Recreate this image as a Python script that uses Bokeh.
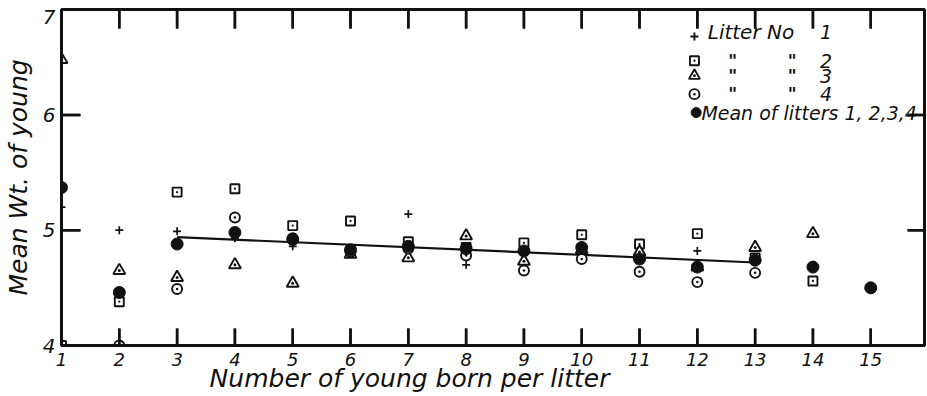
from bokeh.plotting import figure
from bokeh.models import Range1d, FixedTicker, BoxAnnotation
from bokeh.core.properties import value
from bokeh.embed import file_html
from bokeh.resources import INLINE

# ---------------- data ----------------
litter1_x = [1, 2, 3, 4, 5, 6, 7, 8, 9, 10, 11, 12, 13]
litter1_y = [5.20, 5.00, 4.99, 4.93, 4.86, 4.84, 5.14, 4.70, 4.86, 4.83, 4.78, 4.82, 4.76]

litter2_x = [1, 2, 3, 4, 5, 6, 7, 8, 9, 10, 11, 12, 13, 14]
litter2_y = [4.00, 4.38, 5.33, 5.36, 5.04, 5.08, 4.90, 4.85, 4.89, 4.96, 4.88, 4.97, 4.76, 4.56]

litter3_x = [1, 2, 3, 4, 5, 6, 7, 8, 9, 10, 11, 12, 13, 14]
litter3_y = [6.48, 4.65, 4.59, 4.70, 4.54, 4.79, 4.76, 4.95, 4.73, 4.83, 4.81, 4.68, 4.85, 4.97]

litter4_x = [2, 3, 4, 5, 6, 7, 8, 9, 10, 11, 12, 13]
litter4_y = [4.00, 4.49, 5.11, 4.93, 4.81, 4.84, 4.78, 4.65, 4.75, 4.64, 4.55, 4.63]

mean_x = [1, 2, 3, 4, 5, 6, 7, 8, 9, 10, 11, 12, 13, 14, 15]
mean_y = [5.37, 4.46, 4.88, 4.98, 4.92, 4.83, 4.86, 4.84, 4.82, 4.85, 4.75, 4.68, 4.74, 4.68, 4.50]

regression_x = [3, 13]
regression_y = [4.94, 4.72]

x_ticks = list(range(1, 16))
x_tick_labels = [str(t) for t in x_ticks]
y_ticks = [4, 5, 6]
y_tick_labels = ["4", "5", "6", "7"]

x_label = "Number of young born per litter"
y_label = "Mean Wt. of young"

legend_title = "Litter No"
legend_ditto = '"'
legend_numbers = ["1", "2", "3", "4"]
legend_mean_label = "Mean of litters 1, 2,3,4"

# ---------------- layout / style ----------------
W, H = 926, 395
BORDER_L, BORDER_R, BORDER_T, BORDER_B = 57, 2, 9, 50
X_START, X_END = 1.0, 15.93
Y_START, Y_END = 4.0, 6.914
SEVEN_AT = 6.845         # where the top "7" label is written
FONT = "DejaVu Sans"
INK = "#111111"
PX_X = (W - BORDER_L - BORDER_R) / (X_END - X_START)
PX_Y = (H - BORDER_T - BORDER_B) / (Y_END - Y_START)
X_TITLE_PAD = "\u00a0" * 21   # shifts the centred x title left, as in the original

p = figure(width=W, height=H,
           x_range=Range1d(X_START, X_END), y_range=Range1d(Y_START, Y_END),
           output_backend="svg", toolbar_location=None,
           min_border_left=BORDER_L, min_border_right=BORDER_R,
           min_border_top=BORDER_T, min_border_bottom=BORDER_B)
p.background_fill_color = "white"
p.border_fill_color = "white"
p.outline_line_color = INK
p.outline_line_width = 3
p.xgrid.visible = False
p.ygrid.visible = False


def style_axis(ax):
    ax.axis_line_color = INK
    ax.axis_line_width = 3
    ax.major_tick_line_color = None
    ax.major_tick_in = 0
    ax.major_tick_out = 0
    ax.minor_tick_line_color = None
    ax.major_label_text_color = INK
    ax.major_label_text_font = FONT
    ax.major_label_text_font_style = "italic"
    ax.axis_label_text_color = INK
    ax.axis_label_text_font = FONT
    ax.axis_label_text_font_style = "italic"


xa = p.xaxis[0]
style_axis(xa)
xa.ticker = FixedTicker(ticks=x_ticks)
xa.major_label_overrides = {t: lab for t, lab in zip(x_ticks, x_tick_labels)}
xa.major_label_text_font_size = "18px"
xa.major_label_standoff = 7
xa.axis_label = x_label + X_TITLE_PAD
xa.axis_label_text_font_size = "25px"
xa.axis_label_standoff = -5

ya = p.yaxis[0]
style_axis(ya)
left_ticks = y_ticks + [SEVEN_AT]
ya.ticker = FixedTicker(ticks=left_ticks)
ya.major_label_overrides = {t: lab for t, lab in zip(left_ticks, y_tick_labels)}
ya.major_label_text_font_size = "20px"
ya.major_label_standoff = 6
ya.axis_label = y_label
ya.axis_label_text_font_size = "25px"
ya.axis_label_standoff = 7

# ---------------- marks ----------------
p.line(regression_x, regression_y, line_color=INK, line_width=2.2)

p.scatter(litter1_x, litter1_y, marker="cross", size=8, line_color=INK, line_width=1.7)
p.scatter(litter2_x, litter2_y, marker="square_dot", size=9, line_color=INK,
          fill_color="white", line_width=1.9)
p.scatter(litter3_x, litter3_y, marker="triangle_dot", size=12, line_color=INK,
          fill_color="white", line_width=1.9)
p.scatter(litter4_x, litter4_y, marker="circle_dot", size=10, line_color=INK,
          fill_color="white", line_width=1.9)
p.scatter(mean_x, mean_y, marker="circle", size=12, line_color=INK, fill_color=INK)

# ---------------- hand-lettered key (top right) ----------------
key_marker_x = 11.95
key_text_x = 12.18
key_ditto_x = [12.61, 13.64]
key_number_x = 14.12
key_rows_y = [6.715, 6.47, 6.34, 6.18]
key_marker_y = [6.68, 6.47, 6.34, 6.18]
key_mean_y = 6.02
key_markers = ["cross", "square_dot", "triangle_dot", "circle_dot"]
key_sizes = [8, 9, 11, 10]

for m, s, yy in zip(key_markers, key_sizes, key_marker_y):
    p.scatter([key_marker_x], [yy], marker=m, size=s, line_color=INK,
              fill_color="white", line_width=1.9)

p.text([key_text_x], [key_rows_y[0]], text=[legend_title], text_font=value(FONT),
       text_font_style="italic", text_font_size="20px", text_color=INK,
       text_baseline="middle", text_align="left")
for yy in key_rows_y[1:]:
    p.text(key_ditto_x, [yy, yy], text=[legend_ditto, legend_ditto], text_font=value(FONT),
           text_font_style="bold italic", text_font_size="17px", text_color=INK,
           text_baseline="middle", text_align="center")
p.text([key_number_x] * 4, key_rows_y, text=legend_numbers, text_font=value(FONT),
       text_font_style="italic", text_font_size="19px", text_color=INK,
       text_baseline="middle", text_align="left")

p.scatter([11.98], [key_mean_y], marker="circle", size=10, line_color=INK, fill_color=INK)
p.text([12.07], [key_mean_y], text=[legend_mean_label], text_font=value(FONT),
       text_font_style="italic", text_font_size="19px", text_color=INK,
       text_baseline="middle", text_align="left")

# ---------------- inward tick marks on all four sides ----------------
inner_x = x_ticks[1:]
inner_y = y_ticks[1:]
TICK_W = 2.5
LEN_BOTTOM, LEN_TOP, LEN_LEFT, LEN_RIGHT = 17, 19, 19, 17

tick_xs, tick_ys = [], []
for t in inner_x:
    tick_xs.append([t, t])
    tick_ys.append([Y_START + 1 / PX_Y, Y_START + LEN_BOTTOM / PX_Y])
    tick_xs.append([t, t])
    tick_ys.append([Y_END - 1 / PX_Y, Y_END - LEN_TOP / PX_Y])
for t in inner_y:
    tick_xs.append([X_START + 1 / PX_X, X_START + LEN_LEFT / PX_X])
    tick_ys.append([t, t])
    tick_xs.append([X_END - 1 / PX_X, X_END - LEN_RIGHT / PX_X])
    tick_ys.append([t, t])
p.multi_line(tick_xs, tick_ys, line_color=INK, line_width=TICK_W)

# the same ticks again as box annotations (drawn above glyphs and guides)
half_w_x = TICK_W / 2 / PX_X
half_w_y = TICK_W / 2 / PX_Y
for t in inner_x:
    p.add_layout(BoxAnnotation(left=t - half_w_x, right=t + half_w_x, bottom=Y_START,
                               top=Y_START + LEN_BOTTOM / PX_Y, fill_color=INK,
                               fill_alpha=1.0, line_color=None))
    p.add_layout(BoxAnnotation(left=t - half_w_x, right=t + half_w_x,
                               bottom=Y_END - LEN_TOP / PX_Y, top=Y_END, fill_color=INK,
                               fill_alpha=1.0, line_color=None))
for t in inner_y:
    p.add_layout(BoxAnnotation(left=X_START, right=X_START + LEN_LEFT / PX_X,
                               bottom=t - half_w_y, top=t + half_w_y, fill_color=INK,
                               fill_alpha=1.0, line_color=None))
    p.add_layout(BoxAnnotation(left=X_END - LEN_RIGHT / PX_X, right=X_END,
                               bottom=t - half_w_y, top=t + half_w_y, fill_color=INK,
                               fill_alpha=1.0, line_color=None))

open("out.html", "w").write(file_html(p, INLINE))
